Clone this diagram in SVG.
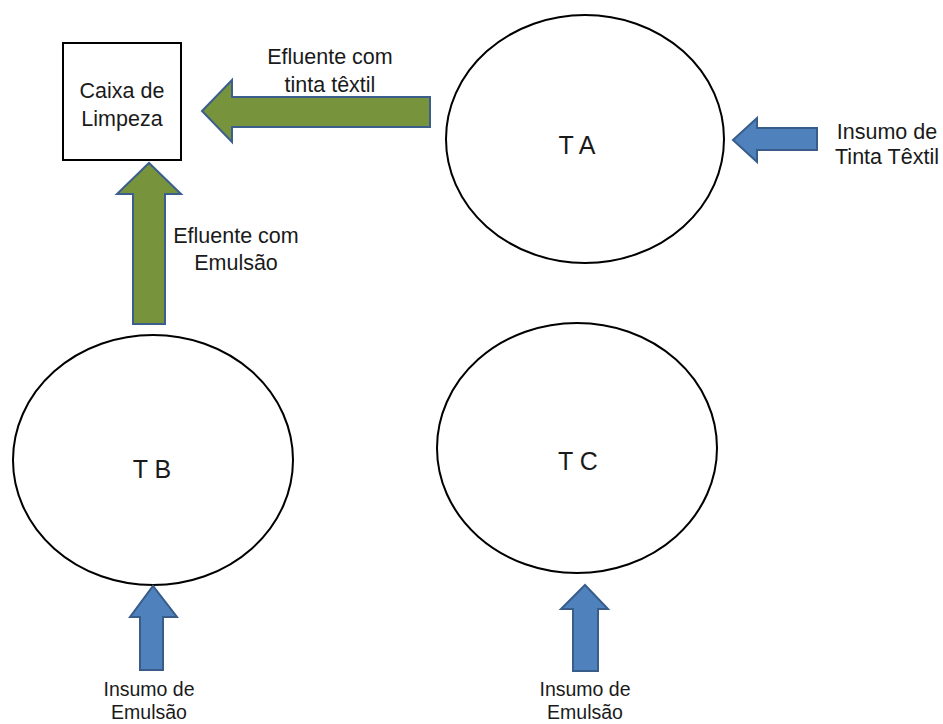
<svg xmlns="http://www.w3.org/2000/svg" width="943" height="724" viewBox="0 0 943 724">
<style>
.lbl{font-family:"Liberation Sans",Arial,sans-serif;font-size:21.5px;fill:#1a1a1a;text-anchor:middle}
.sm{font-size:19.5px}
.tk{font-size:25px}
.node{fill:#fff;stroke:#000;stroke-width:2}
.green{fill:#77933C;stroke:#3B5E8C;stroke-width:2;stroke-linejoin:miter}
.blue{fill:#4F81BD;stroke:#385D8A;stroke-width:2;stroke-linejoin:miter}
</style>
<rect width="943" height="724" fill="#fff"/>
<g id="caixa">
<rect class="node" x="63" y="43" width="118" height="117"/>
<text class="lbl" x="122" y="98">Caixa de</text>
<text class="lbl" x="122" y="126">Limpeza</text>
</g>
<g id="ta">
<ellipse class="node" cx="585" cy="139" rx="139" ry="124"/>
<text class="lbl tk" x="577" y="154">T A</text>
</g>
<g id="tb">
<ellipse class="node" cx="153" cy="460" rx="140" ry="125"/>
<text class="lbl tk" x="152" y="478">T B</text>
</g>
<g id="tc">
<ellipse class="node" cx="577" cy="448" rx="140" ry="125"/>
<text class="lbl tk" x="578" y="470">T C</text>
</g>
<g id="connectors">
<polygon class="green" points="430,97 232,97 232,80 202,111 232,142 232,127 430,127"/>
<text class="lbl" x="330" y="64">Efluente com</text>
<text class="lbl" x="330" y="92">tinta têxtil</text>
<polygon class="green" points="133,324 133,194 117,194 149,163 181,194 165,194 165,324"/>
<text class="lbl" x="236" y="243">Efluente com</text>
<text class="lbl" x="236" y="270">Emulsão</text>
<polygon class="blue" points="817,128 757,128 757,118 733,140 757,162 757,150 817,150"/>
<text class="lbl" x="887" y="139">Insumo de</text>
<text class="lbl" x="887" y="164">Tinta Têxtil</text>
<polygon class="blue" points="140,670 140,617 130,617 153,586 177,617 163,617 163,670"/>
<text class="lbl sm" x="149" y="696">Insumo de</text>
<text class="lbl sm" x="149" y="719">Emulsão</text>
<polygon class="blue" points="573,671 573,609 561,609 585,585 608,609 598,609 598,671"/>
<text class="lbl sm" x="585" y="696">Insumo de</text>
<text class="lbl sm" x="585" y="719">Emulsão</text>
</g>
</svg>
